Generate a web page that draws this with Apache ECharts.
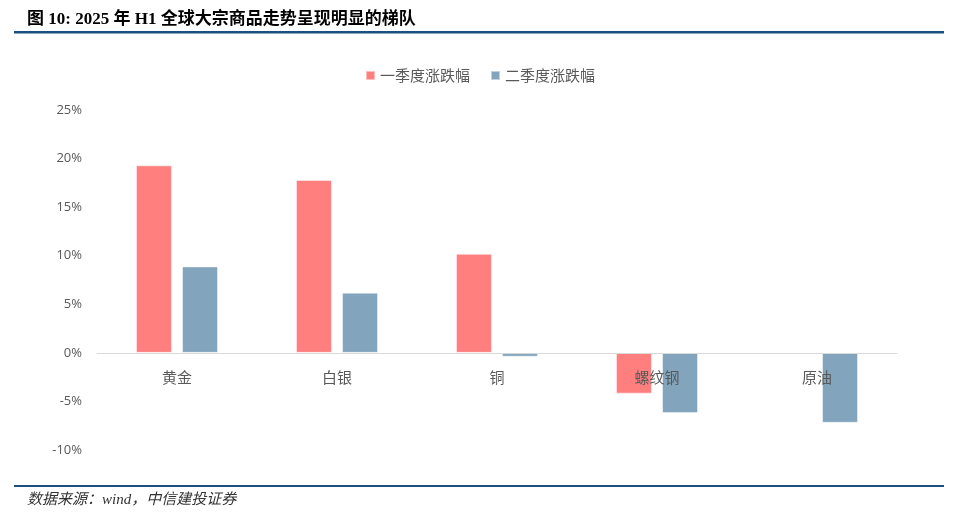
<!DOCTYPE html>
<html>
<head>
<meta charset="utf-8">
<style>
  html, body { margin: 0; padding: 0; background: #fff; }
  #chart-container { width: 960px; height: 522px; }
</style>
<script src="https://cdn.jsdelivr.net/npm/echarts@6/dist/echarts.min.js"></script>
</head>
<body>
<div id="chart-container"></div>
<script>
var categories = ['黄金', '白银', '铜', '螺纹钢', '原油'];
var q1Change = [19.3, 17.8, 10.2, -4.2, 0.1];
var q2Change = [8.9, 6.2, -0.4, -6.2, -7.2];
var seriesNames = ['一季度涨跌幅', '二季度涨跌幅'];

var dom = document.getElementById('chart-container');
var myChart = echarts.init(dom, null, { renderer: 'canvas' });

var option = {
  animation: false,
  backgroundColor: '#fff',
  title: {
    text: '图 10: 2025 年 H1 全球大宗商品走势呈现明显的梯队',
    left: 22,
    top: 6,
    textStyle: {
      fontFamily: "'Liberation Serif', 'Noto Sans CJK SC'",
      fontWeight: 'bold',
      fontSize: 17,
      color: '#000'
    }
  },
  graphic: [
    {
      type: 'rect',
      shape: { x: 14, y: 31, width: 930, height: 2.5 },
      style: { fill: '#1B4F7F' }
    },
    {
      type: 'rect',
      shape: { x: 14, y: 485, width: 930, height: 2 },
      style: { fill: '#1B4F7F' }
    },
    {
      type: 'text',
      left: 27,
      top: 493,
      style: {
        text: '数据来源：wind，中信建投证券',
        font: "italic 15px 'Liberation Serif', 'Noto Sans CJK SC'",
        fill: '#333'
      }
    }
  ],
  legend: {
    data: seriesNames,
    top: 63,
    left: 'center',
    itemWidth: 9,
    itemHeight: 9,
    itemGap: 20,
    icon: 'rect',
    textStyle: {
      fontSize: 15,
      color: '#595959',
      fontFamily: "'Noto Sans CJK SC'"
    }
  },
  grid: {
    left: 97,
    right: 63,
    top: 110,
    bottom: 72,
    containLabel: false
  },
  xAxis: {
    type: 'category',
    data: categories,
    axisLine: { onZero: true, lineStyle: { color: '#d9d9d9', width: 1 } },
    axisTick: { show: false },
    axisLabel: {
      fontSize: 15,
      color: '#595959',
      margin: -80,
      fontFamily: "'Noto Sans CJK SC'"
    },
    z: 5
  },
  yAxis: {
    type: 'value',
    min: -10,
    max: 25,
    interval: 5,
    axisLine: { show: false },
    axisTick: { show: false },
    splitLine: { show: false },
    axisLabel: {
      formatter: '{value}%',
      fontSize: 13,
      color: '#595959',
      margin: 15,
      fontFamily: "'Open Sans', 'Noto Sans'"
    }
  },
  series: [
    {
      name: seriesNames[0],
      type: 'bar',
      data: q1Change,
      barWidth: 36,
      barGap: '28%',
      itemStyle: { color: '#FF7F7F', borderColor: 'rgba(255,255,255,0.5)', borderWidth: 1 }
    },
    {
      name: seriesNames[1],
      type: 'bar',
      data: q2Change,
      barWidth: 36,
      itemStyle: { color: '#82A4BD', borderColor: 'rgba(255,255,255,0.5)', borderWidth: 1 }
    }
  ]
};

myChart.setOption(option);
window.addEventListener('resize', myChart.resize);
</script>
</body>
</html>
